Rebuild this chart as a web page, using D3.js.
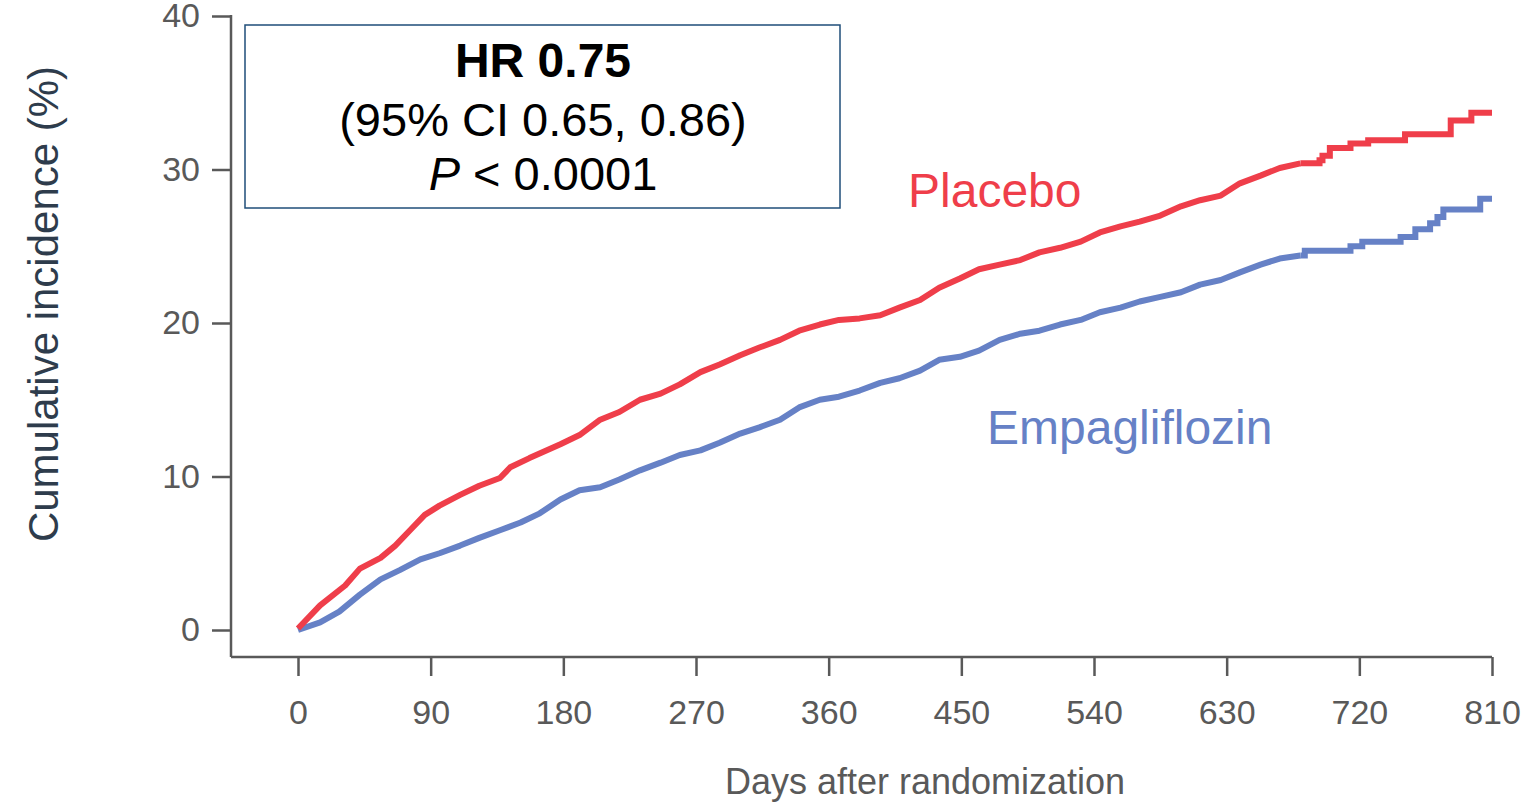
<!DOCTYPE html>
<html>
<head>
<meta charset="utf-8">
<script src="https://cdn.jsdelivr.net/npm/d3@7"></script>
<style>
    body { margin: 0; background: #fff; }
    text { font-family: "Liberation Sans", Arial, sans-serif; }
</style>
</head>
<body>
<div id="chart"></div>
<script>
// days after randomization / cumulative incidence (%)
const placeboDays = [0, 15, 32, 42, 56, 66, 76, 86, 96, 110, 123, 137, 144, 157, 178, 191, 205, 218, 232, 246,
    259, 273, 286, 300, 313, 327, 340, 354, 367, 381, 395, 408, 422, 435, 449, 462, 476, 490, 503, 517,
    531, 544, 558, 571, 585, 599, 612, 626, 639, 653, 666, 680, 693, 695, 700, 714, 726, 751, 782, 796, 810]
const placeboPct = [0.1, 1.6, 2.9, 4.0, 4.7, 5.5, 6.5, 7.5, 8.1, 8.8, 9.4, 9.9, 10.6, 11.2, 12.1, 12.7, 13.7, 14.2, 15.0, 15.4,
    16.0, 16.8, 17.3, 17.9, 18.4, 18.9, 19.5, 19.9, 20.2, 20.3, 20.5, 21.0, 21.5, 22.3, 22.9, 23.5, 23.8, 24.1, 24.6, 24.9,
    25.3, 25.9, 26.3, 26.6, 27.0, 27.6, 28.0, 28.3, 29.1, 29.6, 30.1, 30.4, 30.6, 30.9, 31.4, 31.7, 31.9, 32.3, 33.2, 33.7, 33.7]

const empaDays = [0, 15, 28, 42, 56, 69, 83, 96, 110, 123, 137, 151, 164, 178, 191, 205, 218, 232, 246, 259,
    273, 286, 300, 313, 327, 340, 354, 367, 381, 395, 408, 422, 435, 449, 462, 476, 490, 503, 517, 531,
    544, 558, 571, 585, 599, 612, 626, 639, 653, 666, 680, 683, 714, 722, 748, 758, 768, 773, 777, 802, 810]
const empaPct = [0.0, 0.5, 1.2, 2.3, 3.3, 3.9, 4.6, 5.0, 5.5, 6.0, 6.5, 7.0, 7.6, 8.5, 9.1, 9.3, 9.8, 10.4, 10.9, 11.4,
    11.7, 12.2, 12.8, 13.2, 13.7, 14.5, 15.0, 15.2, 15.6, 16.1, 16.4, 16.9, 17.6, 17.8, 18.2, 18.9, 19.3, 19.5, 19.9, 20.2,
    20.7, 21.0, 21.4, 21.7, 22.0, 22.5, 22.8, 23.3, 23.8, 24.2, 24.4, 24.7, 25.0, 25.3, 25.6, 26.1, 26.5, 26.9, 27.4, 28.1, 28.1]

// before this day the steps are too fine to read one by one
const stepStartDay = 680

const xTicks = [0, 90, 180, 270, 360, 450, 540, 630, 720, 810]
const yTicks = [0, 10, 20, 30, 40]

const redColor = "#ef3e4a"
const blueColor = "#6681c6"
const axisColor = "#595959"

const width = 1537
const height = 808

let svg = d3.select("#chart")
    .append("svg")
    .attr("width", width)
    .attr("height", height)

let x = d3.scaleLinear()
    .domain([0, 810])
    .range([298, 1492])

let y = d3.scaleLinear()
    .domain([0, 40])
    .range([630, 16])

// axes
const xAxis = svg.append("g")
    .attr("transform", "translate(0,657)")
    .call(d3.axisBottom(x).tickValues(xTicks).tickSize(19).tickSizeOuter(0).tickPadding(24))
xAxis.select(".domain").attr("d", "M231,0H1492")

const yAxis = svg.append("g")
    .attr("transform", "translate(231,0)")
    .call(d3.axisLeft(y).tickValues(yTicks).tickSize(19).tickSizeOuter(0).tickPadding(12))
yAxis.select(".domain").attr("d", "M0,15V657")

svg.selectAll(".domain, .tick line")
    .attr("stroke", axisColor)
    .attr("stroke-width", 2.5)
svg.selectAll(".tick text")
    .attr("fill", axisColor)
    .style("font-size", "34px")
    .style("font-family", "Liberation Sans, Arial, sans-serif")

// curves: smooth-looking part, then the readable steps at the end
const lineFine = d3.line()
    .x(d => x(d[0]))
    .y(d => y(d[1]))
const lineStep = d3.line()
    .x(d => x(d[0]))
    .y(d => y(d[1]))
    .curve(d3.curveStepAfter)

function drawSeries(days, pct, color) {
    const pts = days.map((d, i) => [d, pct[i]])
    svg.append("path")
        .datum(pts.filter(p => p[0] <= stepStartDay))
        .attr("d", lineFine)
        .attr("fill", "none")
        .attr("stroke", color)
        .attr("stroke-width", 6)
        .attr("stroke-linejoin", "round")
    svg.append("path")
        .datum(pts.filter(p => p[0] >= stepStartDay))
        .attr("d", lineStep)
        .attr("fill", "none")
        .attr("stroke", color)
        .attr("stroke-width", 6)
}

drawSeries(empaDays, empaPct, blueColor)
drawSeries(placeboDays, placeboPct, redColor)

// series labels
svg.append("text")
    .attr("x", 908)
    .attr("y", 207)
    .attr("fill", redColor)
    .style("font-size", "48px")
    .text("Placebo")

svg.append("text")
    .attr("x", 987)
    .attr("y", 444)
    .attr("fill", blueColor)
    .style("font-size", "48px")
    .text("Empagliflozin")

// stats box
svg.append("rect")
    .attr("x", 245)
    .attr("y", 25)
    .attr("width", 595)
    .attr("height", 183)
    .attr("fill", "none")
    .attr("stroke", "#1f4e79")
    .attr("stroke-width", 1.5)

svg.append("text")
    .attr("x", 543)
    .attr("y", 77)
    .attr("text-anchor", "middle")
    .style("font-size", "48px")
    .style("font-weight", "bold")
    .text("HR 0.75")

svg.append("text")
    .attr("x", 543)
    .attr("y", 136)
    .attr("text-anchor", "middle")
    .style("font-size", "47px")
    .text("(95% CI 0.65, 0.86)")

const pText = svg.append("text")
    .attr("x", 543)
    .attr("y", 190)
    .attr("text-anchor", "middle")
    .style("font-size", "47px")
pText.append("tspan").style("font-style", "italic").text("P")
pText.append("tspan").text(" < 0.0001")

// axis titles
svg.append("text")
    .attr("transform", "translate(58,304) rotate(-90)")
    .attr("text-anchor", "middle")
    .attr("fill", "#2e3c4c")
    .style("font-size", "42px")
    .text("Cumulative incidence (%)")

svg.append("text")
    .attr("x", 925)
    .attr("y", 794)
    .attr("text-anchor", "middle")
    .attr("fill", axisColor)
    .style("font-size", "36px")
    .text("Days after randomization")
</script>
</body>
</html>
